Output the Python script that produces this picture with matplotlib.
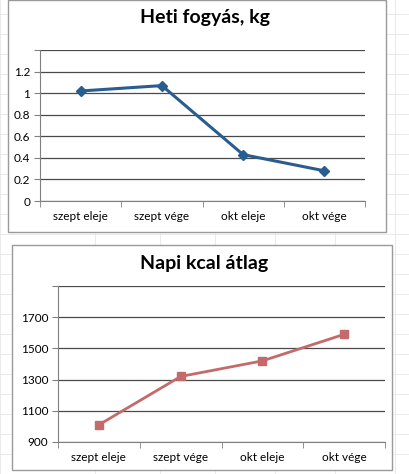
import matplotlib
matplotlib.use("Agg")
import matplotlib.pyplot as plt
from matplotlib.patches import Rectangle

plt.rcParams['font.family'] = ['Lato', 'DejaVu Sans']

# data
periods = ["szept eleje", "szept vége", "okt eleje", "okt vége"]
weight_loss = [1.02, 1.07, 0.43, 0.28]
kcal_avg = [1010, 1320, 1420, 1590]

loss_ticks = [0, 0.2, 0.4, 0.6, 0.8, 1, 1.2, 1.4]
loss_labels = ["0", "0.2", "0.4", "0.6", "0.8", "1", "1.2", ""]
kcal_ticks = [900, 1100, 1300, 1500, 1700, 1900]
kcal_labels = ["900", "1100", "1300", "1500", "1700", ""]

fig = plt.figure(figsize=(4.09, 4.74), dpi=100)

# faint spreadsheet cells in the background
for yy in range(0, 474, 20):
    fig.add_artist(plt.Line2D([0, 1], [yy / 474, yy / 474], color="#e6e6e6", lw=0.6, zorder=0))
for xx in [0, 95, 160, 215, 275, 335, 395]:
    fig.add_artist(plt.Line2D([xx / 409, xx / 409], [0, 1], color="#e6e6e6", lw=0.6, zorder=0))

# chart frames
fig.add_artist(Rectangle((8 / 409, 1 - 232 / 474), 378 / 409, 232 / 474, transform=fig.transFigure,
                         facecolor="white", edgecolor="#9a9a9a", lw=1.0, zorder=1))
fig.add_artist(Rectangle((12 / 409, 1 - 470 / 474), 380 / 409, 225 / 474, transform=fig.transFigure,
                         facecolor="white", edgecolor="#9a9a9a", lw=1.0, zorder=1))


def style_axes(ax, ticks, labels):
    ax.set_facecolor("none")
    ax.set_xlim(-0.5, 3.5)
    ax.set_ylim(ticks[0], ticks[-1])
    ax.set_yticks(ticks)
    ax.set_yticklabels(labels)
    ax.set_xticks(range(len(periods)))
    ax.set_xticklabels(periods)
    ax.set_xticks([i - 0.5 for i in range(len(periods) + 1)], minor=True)
    ax.tick_params(axis="x", which="major", length=0, pad=7, labelsize=8.5)
    ax.tick_params(axis="x", which="minor", length=4, color="#808080", direction="out")
    ax.tick_params(axis="y", length=4, color="#808080", labelsize=8.5, pad=3)
    ax.grid(axis="y", color="#4a4a4a", lw=0.9)
    ax.set_axisbelow(True)
    for s in ["top", "right"]:
        ax.spines[s].set_visible(False)
    for s in ["left", "bottom"]:
        ax.spines[s].set_color("#808080")
        ax.spines[s].set_linewidth(0.8)


ax1 = fig.add_axes([40 / 409, 1 - 201 / 474, 325 / 409, 151 / 474], zorder=2)
style_axes(ax1, loss_ticks, loss_labels)
ax1.plot(range(len(periods)), weight_loss, color="#2a5d8f", lw=2.2, marker="D", ms=5)
fig.text(0.5, 1 - 17 / 474, "Heti fogyás, kg", ha="center", va="center",
         fontsize=14, fontweight="bold", zorder=3)

ax2 = fig.add_axes([58 / 409, 1 - 442 / 474, 327 / 409, 156 / 474], zorder=2)
style_axes(ax2, kcal_ticks, kcal_labels)
ax2.plot(range(len(periods)), kcal_avg, color="#c46a6b", lw=2.0, marker="s", ms=6)
fig.text(0.5, 1 - 263 / 474, "Napi kcal átlag", ha="center", va="center",
         fontsize=14, fontweight="bold", zorder=3)

fig.savefig("out.png", dpi=100)
